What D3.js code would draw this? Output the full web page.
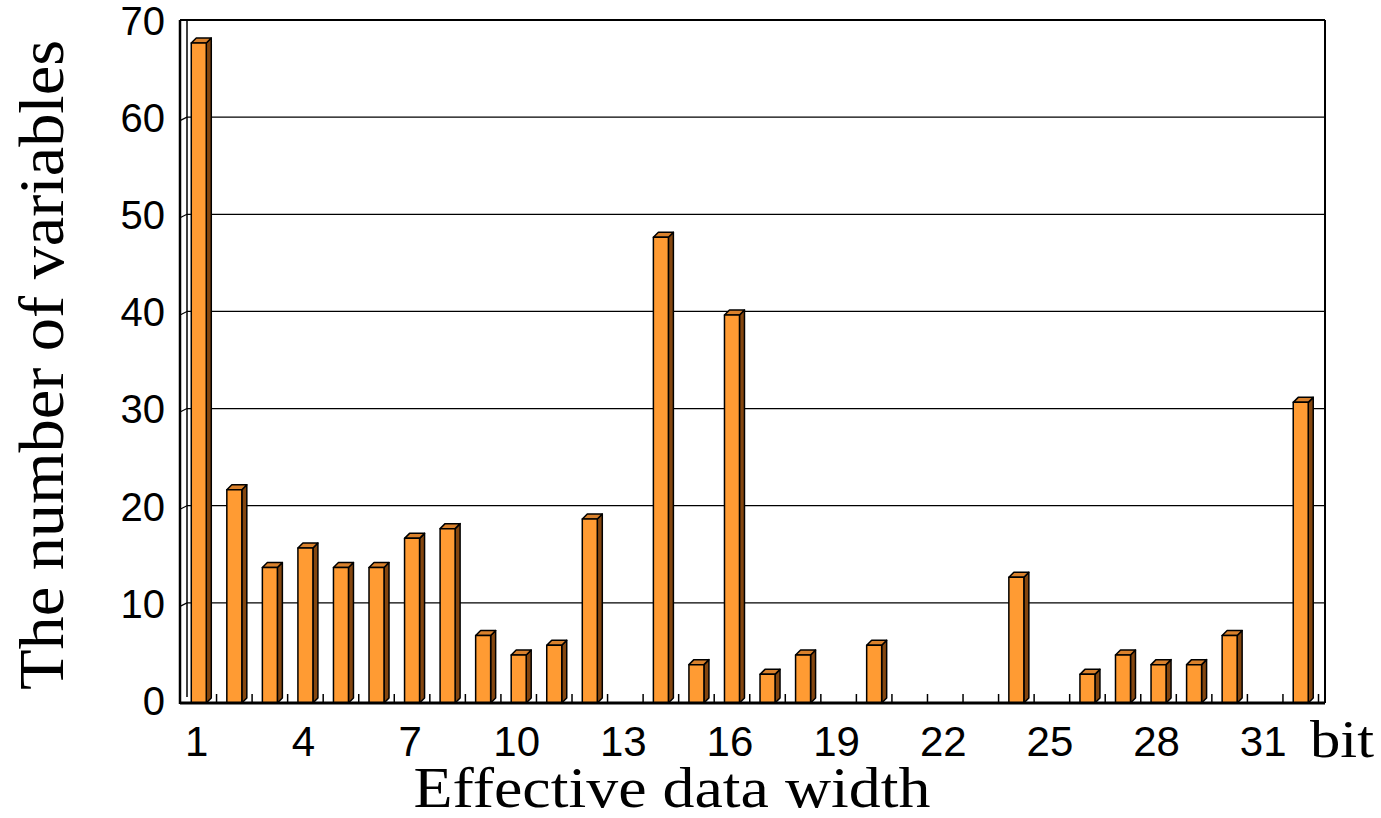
<!DOCTYPE html>
<html>
<head>
<meta charset="utf-8">
<script src="https://cdn.jsdelivr.net/npm/d3@7"></script>
<style>
  body { margin: 0; background: #fff; }
  svg { display: block; }
</style>
</head>
<body>
<svg id="chart"></svg>
<script>
// data
const bits = [1, 2, 3, 4, 5, 6, 7, 8, 9, 10, 11, 12, 13, 14, 15, 16,
  17, 18, 19, 20, 21, 22, 23, 24, 25, 26, 27, 28, 29, 30, 31, 32];
const counts = [68, 22, 14, 16, 14, 14, 17, 18, 7, 5, 6, 19, 0, 48, 4, 40,
  3, 5, 0, 6, 0, 0, 0, 13, 0, 3, 5, 4, 4, 7, 0, 31];
const xTickLabels = [1, 4, 7, 10, 13, 16, 19, 22, 25, 28, 31];
const yTicks = [0, 10, 20, 30, 40, 50, 60, 70];

const W = 1381, H = 818;
const serif = "'Times New Roman', 'Liberation Serif', serif";
const sans = "Arial, 'Liberation Sans', sans-serif";

const svg = d3.select('#chart').attr('width', W).attr('height', H);

// scales
const x = d3.scaleBand().domain(bits).range([181, 1318.5]).padding(0);
const y = d3.scaleLinear().domain([0, 70]).range([700, 20]);

const axisX = 180, wallX = 187, rightX = 1325, floorY = 703, topY = y(70);
const depth = 5, frontW = 15, sideW = 5;

// back wall gridlines
svg.append('g')
  .selectAll('line')
  .data(yTicks.filter(d => d > 0 && d < 70))
  .enter()
  .append('line')
  .attr('x1', wallX).attr('x2', rightX)
  .attr('y1', d => y(d)).attr('y2', d => y(d))
  .attr('stroke', '#000').attr('stroke-width', 1.2);

// little slanted ticks on the side wall
svg.append('g')
  .selectAll('line')
  .data(yTicks.filter(d => d > 0 && d < 70))
  .enter()
  .append('line')
  .attr('x1', axisX).attr('x2', wallX)
  .attr('y1', d => y(d) + 3.5).attr('y2', d => y(d))
  .attr('stroke', '#000').attr('stroke-width', 1.2);

// frame
const frame = svg.append('g').attr('stroke', '#000').attr('fill', 'none');
frame.append('line').attr('x1', wallX).attr('x2', wallX).attr('y1', topY).attr('y2', floorY - 6).attr('stroke-width', 1.5);
frame.append('line').attr('x1', axisX).attr('x2', rightX).attr('y1', topY).attr('y2', topY).attr('stroke-width', 2);
frame.append('line').attr('x1', rightX).attr('x2', rightX).attr('y1', topY).attr('y2', floorY).attr('stroke-width', 2);
frame.append('line').attr('x1', axisX).attr('x2', axisX).attr('y1', topY).attr('y2', floorY + 1).attr('stroke-width', 2.5);

// floor ticks between categories
svg.append('g')
  .selectAll('line')
  .data(bits.slice(1).concat(['end']))
  .enter()
  .append('line')
  .attr('x1', d => d === 'end' ? x(32) + x.bandwidth() : x(d))
  .attr('x2', d => d === 'end' ? x(32) + x.bandwidth() : x(d))
  .attr('y1', floorY - 9).attr('y2', floorY)
  .attr('stroke', '#000').attr('stroke-width', 1.5);

// 3d bars
const barData = bits.map((b, i) => ({ bit: b, value: counts[i] })).filter(d => d.value > 0);
const bars = svg.append('g')
  .selectAll('g')
  .data(barData)
  .enter()
  .append('g')
  .attr('stroke', '#000')
  .attr('stroke-width', 1.5)
  .attr('stroke-linejoin', 'round');

const fx0 = d => x(d.bit) + x.bandwidth() / 2 - frontW / 2;
const fTop = d => y(d.value) + 3.5;

// side
bars.append('path')
  .attr('fill', '#84460f')
  .attr('d', d => {
    const a = fx0(d) + frontW, t = fTop(d);
    return `M${a},${t}L${a + sideW},${t - depth}L${a + sideW},${floorY - depth}L${a},${floorY}Z`;
  });
// top
bars.append('path')
  .attr('fill', '#d9812c')
  .attr('d', d => {
    const a = fx0(d), t = fTop(d);
    return `M${a},${t}L${a + sideW},${t - depth}L${a + frontW + sideW},${t - depth}L${a + frontW},${t}Z`;
  });
// front
bars.append('rect')
  .attr('fill', '#ff9b33')
  .attr('x', fx0)
  .attr('y', fTop)
  .attr('width', frontW)
  .attr('height', d => floorY - fTop(d));

// floor line
svg.append('line')
  .attr('x1', axisX).attr('x2', rightX)
  .attr('y1', floorY).attr('y2', floorY)
  .attr('stroke', '#000').attr('stroke-width', 3);

// y axis labels
const yAxis = svg.append('g')
  .attr('transform', `translate(${axisX},0)`)
  .call(d3.axisLeft(y).tickValues(yTicks).tickSize(0).tickPadding(15));
yAxis.select('.domain').remove();
yAxis.selectAll('text')
  .attr('font-family', sans)
  .attr('font-size', 40)
  .attr('fill', '#000')
  .attr('dy', '0.36em');

// x axis labels
const xAxis = svg.append('g')
  .attr('transform', `translate(0,${floorY})`)
  .call(d3.axisBottom(x).tickValues(xTickLabels).tickSize(0).tickPadding(0));
xAxis.select('.domain').remove();
xAxis.selectAll('text')
  .attr('font-family', sans)
  .attr('font-size', 42)
  .attr('fill', '#000')
  .attr('y', 0)
  .attr('dy', 0)
  .attr('transform', 'translate(-2,53)');

// unit label
svg.append('text')
  .attr('x', 1342).attr('y', 757)
  .attr('text-anchor', 'middle')
  .attr('font-family', serif)
  .attr('font-size', 52)
  .attr('textLength', 64)
  .attr('lengthAdjust', 'spacingAndGlyphs')
  .text('bit');

// axis titles
svg.append('text')
  .attr('x', 672).attr('y', 807)
  .attr('text-anchor', 'middle')
  .attr('font-family', serif)
  .attr('font-size', 57)
  .attr('textLength', 517)
  .attr('lengthAdjust', 'spacingAndGlyphs')
  .text('Effective data width');

svg.append('text')
  .attr('transform', 'translate(63,365) rotate(-90)')
  .attr('text-anchor', 'middle')
  .attr('font-family', serif)
  .attr('font-size', 64)
  .attr('textLength', 650)
  .attr('lengthAdjust', 'spacingAndGlyphs')
  .text('The number of variables');
</script>
</body>
</html>
